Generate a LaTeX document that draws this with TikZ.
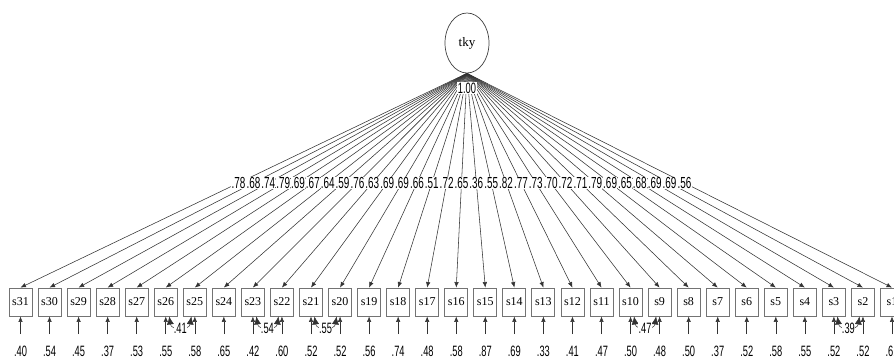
\documentclass[tikz,border=0pt]{standalone}
\usepackage{fontspec}
\setmainfont{Liberation Serif}
\newfontfamily\narrowsans{Liberation Sans}[FakeStretch=0.62]
\usetikzlibrary{arrows.meta,shapes.geometric,calc}

\begin{document}
\begin{tikzpicture}[
    x=1pt, y=-1pt,
    % ---- styles -------------------------------------------------
    latent/.style={
        ellipse, draw=black!75, line width=0.7pt,
        minimum width=44pt, minimum height=60pt, inner sep=0pt,
        font=\fontsize{13}{13}\selectfont},
    obs/.style={
        rectangle, draw=black!55, line width=0.9pt, fill=white,
        minimum width=23pt, minimum height=28pt, inner sep=0pt,
        font=\fontsize{12}{12}\selectfont},
    load/.style={-{Latex[length=5.5pt,width=4.5pt]}, line width=0.55pt, draw=black!80},
    err/.style={load},
    cov/.style={{Latex[length=8pt,width=7pt]}-{Latex[length=8pt,width=7pt]},
        line width=0.5pt, draw=black!80},
    coef/.style={fill=white, inner sep=0.3pt,
        font=\narrowsans\fontsize{16}{16}\selectfont},
    rsq/.style={inner sep=0pt, font=\narrowsans\fontsize{15}{15}\selectfont},
]

\clip (0,0) rectangle (894,359);

% =================== latent factor ============================
\node[latent] (tky) at (467,43) {tky};

% =================== indicators ===============================
\foreach \i/\r in {1/.61, 2/.52, 3/.52, 4/.55, 5/.58, 6/.52, 7/.37, 8/.50,
    9/.48, 10/.50, 11/.47, 12/.41, 13/.33, 14/.69, 15/.87, 16/.58, 17/.48,
    18/.74, 19/.56, 20/.52, 21/.52, 22/.60, 23/.42, 24/.65, 25/.58, 26/.55,
    27/.53, 28/.37, 29/.45, 30/.54, 31/.40}{
    \pgfmathsetmacro{\xs}{20.5+(31-\i)*29.05}
    \node[obs] (s\i) at (\xs,302) {s\i};
    \coordinate (e\i) at (\xs,334);
    \draw[err] (e\i) -- (s\i.south);
    \node[rsq] (r\i) at (\xs,351) {\r};
    \draw[load] (tky.south) -- (s\i.north);
}

% =================== loadings (right to left) =================
\foreach \i/\l in {1/.56, 2/.69, 3/.69, 4/.68, 5/.65, 6/.69, 7/.79, 8/.71,
    9/.72, 10/.70, 11/.73, 12/.77, 13/.82, 14/.55, 15/.36, 16/.65, 17/.72,
    18/.51, 19/.66, 20/.69, 21/.69, 22/.63, 23/.76, 24/.59, 25/.64, 26/.67,
    27/.69, 28/.79, 29/.74, 30/.68, 31/.78}{
    \node[coef] (w\i) at ($(tky.south)!0.5116!(s\i.north)$) {\l};
}

\node[coef, inner sep=1pt, font=\narrowsans\fontsize{15}{15}\selectfont]
    (var) at (467,88) {1.00};

% =================== error covariances ========================
\foreach \a/\b/\c in {26/25/.41, 23/22/.54, 21/20/.55, 10/9/.47, 3/2/.39}{
    \draw[cov] ([xshift=3.5pt]s\a.south) .. controls +(2,14) and +(-2,14)
        .. ([xshift=-3.5pt]s\b.south);
    \node[coef, font=\narrowsans\fontsize{15}{15}\selectfont] (c\a)
        at ($(s\a.south)!0.5!(s\b.south)+(0,12)$) {\c};
}

\end{tikzpicture}
\end{document}
